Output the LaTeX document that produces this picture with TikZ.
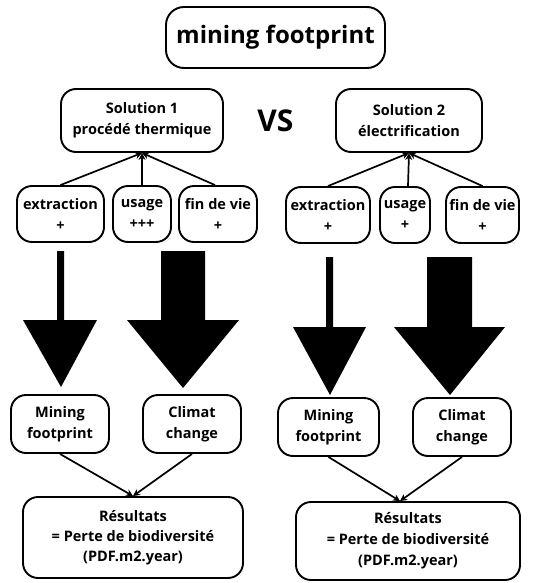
\documentclass[tikz,border=0pt]{standalone}
\usepackage{fontspec}
\setmainfont{Open Sans}
\usetikzlibrary{arrows.meta}
\begin{document}
\begin{tikzpicture}[x=1pt,y=-1pt,
  box/.style={draw, line width=1.9pt, rounded corners=15pt, align=center, inner sep=0pt,
    font=\bfseries\fontsize{14.5}{21}\selectfont},
  conn/.style={line width=1.7pt},
  arr/.style={conn, -{Stealth[length=7pt,width=7pt]}},
  bigarrow/.style={fill=black, draw=none}]
\useasboundingbox (0,0) rectangle (543,583);
% title
\node[box, minimum width=219pt, minimum height=61pt, rounded corners=18pt,
  font=\bfseries\fontsize{24}{30}\selectfont] (title) at (275.5,37.5) {mining footprint};
% solutions
\node[box, minimum width=162pt, minimum height=63pt] (sol1) at (142,120.5) {Solution 1\\procédé thermique};
\node[font=\bfseries\fontsize{30}{30}\selectfont, inner sep=0pt] (vs) at (275.5,121) {VS};
\node[box, minimum width=146pt, minimum height=63pt] (sol2) at (409,120.5) {Solution 2\\électrification};
% stages left
\node[box, minimum width=87pt, minimum height=56pt] (ext1) at (60.5,214) {extraction\\+};
\node[box, minimum width=58pt, minimum height=56pt] (use1) at (142,214) {usage\\+++};
\node[box, minimum width=78pt, minimum height=56pt] (fin1) at (218,214) {fin de vie\\+};
% stages right
\node[box, minimum width=84pt, minimum height=56pt] (ext2) at (328,215) {extraction\\+};
\node[box, minimum width=50pt, minimum height=56pt] (use2) at (405,215) {usage\\+};
\node[box, minimum width=73pt, minimum height=56pt] (fin2) at (482.5,215) {fin de vie\\+};
% connectors to solutions
\draw[arr] (ext1.north) -- (sol1.south);
\draw[arr] (use1.north) -- (sol1.south);
\draw[arr] ([xshift=-3pt]fin1.north) -- (sol1.south);
\draw[arr] (ext2.north) -- (sol2.south);
\draw[arr] ([xshift=3pt]use2.north) -- (sol2.south);
\draw[arr] (fin2.north) -- (sol2.south);
% big arrows
\fill[bigarrow] (57,251) -- (64,251) -- (64,320) -- (97,320) -- (61,387) -- (23,320) -- (57,320) -- cycle;
\fill[bigarrow] (161,251) -- (205,251) -- (205,320) -- (239,320) -- (183,388) -- (127,320) -- (161,320) -- cycle;
\fill[bigarrow] (326,257) -- (333,257) -- (333,327) -- (366,327) -- (330,395) -- (293,327) -- (326,327) -- cycle;
\fill[bigarrow] (427,257) -- (472,257) -- (472,327) -- (505,327) -- (450,395) -- (394,327) -- (427,327) -- cycle;
% impact boxes
\node[box, minimum width=98pt, minimum height=58pt] (mf1) at (60,424) {Mining\\footprint};
\node[box, minimum width=98pt, minimum height=58pt] (cc1) at (192,424) {Climat\\change};
\node[box, minimum width=101pt, minimum height=58pt] (mf2) at (328.5,427) {Mining\\footprint};
\node[box, minimum width=98pt, minimum height=58pt] (cc2) at (462,427) {Climat\\change};
% results
\node[box, minimum width=220pt, minimum height=81pt, font=\bfseries\fontsize{14.5}{20}\selectfont] (res1) at (133,537.5) {Résultats\\= Perte de biodiversité\\(PDF.m2.year)};
\node[box, minimum width=224pt, minimum height=78pt, font=\bfseries\fontsize{14.5}{21}\selectfont] (res2) at (408,541) {Résultats\\= Perte de biodiversité\\(PDF.m2.year)};
\coordinate (r2in) at ([xshift=-8pt]res2.north);
\draw[arr] (mf1.south) -- (res1.north);
\draw[arr] (cc1.south) -- (res1.north);
\draw[arr] (mf2.south) -- (r2in);
\draw[arr] (cc2.south) -- (r2in);
\end{tikzpicture}
\end{document}
